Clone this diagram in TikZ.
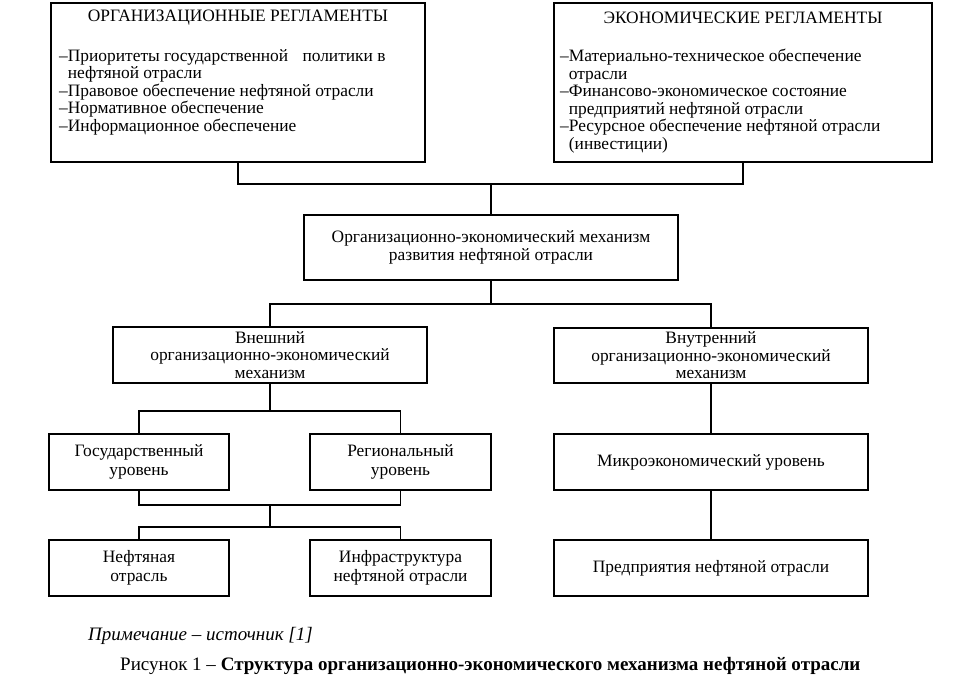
\documentclass[tikz,border=0pt]{standalone}
\usepackage{fontspec}
\setmainfont{Liberation Serif}
\newcommand\bxfnt{\fontsize{17.4}{17.5}\selectfont}
\newcommand\smfnt{\fontsize{17.4}{18.5}\selectfont}
\newcommand\capfnt{\fontsize{19}{22}\selectfont}
\begin{document}
\begin{tikzpicture}[x=1pt,y=-1pt,
  box/.style={draw, line width=1.1pt, inner sep=0pt, align=center, font=\bxfnt},
  smbox/.style={box, font=\smfnt},
  txt/.style={inner sep=0pt, align=left, font=\bxfnt},
  wire/.style={line width=1.1pt}]
\useasboundingbox (0,0) rectangle (954,684);
\fill[white] (0,0) rectangle (954,684);

% top regulation boxes
\node[box, minimum width=374pt, minimum height=159pt] (org) at (238,82.5) {};
\node[txt] (orgH) at (238,17.5) {ОРГАНИЗАЦИОННЫЕ РЕГЛАМЕНТЫ};
\node[txt, anchor=north west] (orgL) at (59,49) {–Приоритеты государственной\hspace{10pt} политики в\\\phantom{–}нефтяной отрасли\\–Правовое обеспечение нефтяной отрасли\\–Нормативное обеспечение\\–Информационное обеспечение};

\node[box, minimum width=378pt, minimum height=159pt] (eco) at (743,82.5) {};
\node[txt] (ecoH) at (743,17.5) {ЭКОНОМИЧЕСКИЕ РЕГЛАМЕНТЫ};
\node[txt, anchor=north west] (ecoL) at (560,49) {–Материально-техническое обеспечение\\\phantom{–}отрасли\\–Финансово-экономическое состояние\\\phantom{–}предприятий нефтяной отрасли\\–Ресурсное обеспечение нефтяной отрасли\\\phantom{–}(инвестиции)};

% mechanism
\node[box, minimum width=374pt, minimum height=65pt] (mech) at (491,247.5) {Организационно-экономический механизм\\развития нефтяной отрасли};

\node[box, minimum width=314pt, minimum height=56pt] (ext) at (270,355) {Внешний\\организационно-экономический\\механизм};
\node[box, minimum width=314pt, minimum height=55pt] (int) at (711,355.5) {Внутренний\\организационно-экономический\\механизм};

\node[smbox, minimum width=180pt, minimum height=56pt] (gos) at (139,462) {Государственный\\уровень};
\node[smbox, minimum width=181pt, minimum height=56pt] (reg) at (400.5,462) {Региональный\\уровень};
\node[box, minimum width=314pt, minimum height=56pt] (micro) at (711,462) {Микроэкономический уровень};

\node[smbox, minimum width=180pt, minimum height=56pt] (neft) at (139,568) {Нефтяная\\отрасль};
\node[smbox, minimum width=181pt, minimum height=56pt] (infra) at (400.5,568) {Инфраструктура\\нефтяной отрасли};
\node[box, minimum width=314pt, minimum height=56pt] (pred) at (711,568) {Предприятия нефтяной отрасли};

% connectors
\coordinate (j1) at (491,184);
\coordinate (j2) at (491,304);
\coordinate (j3) at (270,411);
\coordinate (j4) at (270,505);
\coordinate (j5) at (270,527);
\draw[wire] (org.south) |- (j1) -| (eco.south);
\draw[wire] (j1) -- (mech.north);
\draw[wire] (mech.south) -- (j2);
\draw[wire] (ext.north) |- (j2) -| (int.north);
\draw[wire] (ext.south) -- (j3);
\draw[wire] (gos.north) |- (j3) -| (reg.north);
\draw[wire] (gos.south) |- (j4) -| (reg.south);
\draw[wire] (j4) -- (j5);
\draw[wire] (neft.north) |- (j5) -| (infra.north);
\draw[wire] (int.south) -- (micro.north);
\draw[wire] (micro.south) -- (pred.north);

% captions
\node[inner sep=0pt, anchor=base west, font=\capfnt\itshape] (note) at (88,640) {Примечание – источник [1]};
\node[inner sep=0pt, anchor=base west, font=\capfnt] (cap) at (120,670) {Рисунок 1 – \textbf{Структура организационно-экономического механизма нефтяной отрасли}};
\end{tikzpicture}
\end{document}
